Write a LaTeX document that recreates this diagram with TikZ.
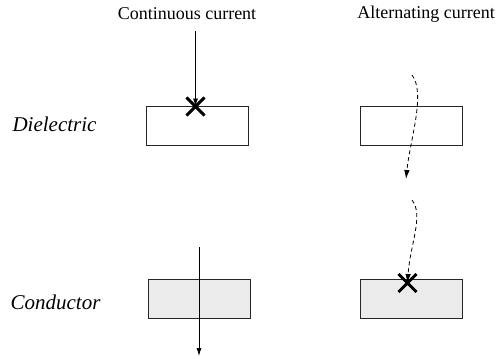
\documentclass[tikz,border=0pt]{standalone}
\usepackage{fontspec}
\setmainfont{Liberation Serif}
\usetikzlibrary{shapes.misc,arrows.meta}
\begin{document}
\begin{tikzpicture}[x=1pt,y=-1pt,
  box/.style={draw=black!85,line width=0.8pt,minimum width=102pt,minimum height=39pt,inner sep=0pt},
  condbox/.style={box,fill=black!8},
  xmark/.style={cross out,draw=black,line width=2.8pt,minimum size=15pt,inner sep=0pt},
  lbl/.style={font=\fontsize{18}{20}\selectfont,inner sep=0pt},
  rowlbl/.style={inner sep=0pt,font=\fontsize{21}{23}\selectfont\itshape},
  solidarrow/.style={line width=0.8pt,-{Latex[length=8pt,width=5pt]}},
  dasharrow/.style={line width=0.8pt,dash pattern=on 4pt off 3pt,-{Latex[length=9pt,width=5.5pt]}}]
\useasboundingbox (0,0) rectangle (504,359);
% headings
\node[lbl] (hdc) at (187,14) {Continuous current};
\node[lbl,anchor=east] (hac) at (495,14) {Alternating current};
\node[rowlbl] (ldi) at (54.5,124) {Dielectric};
\node[rowlbl] (lco) at (55.5,302) {Conductor};
% boxes
\node[box] (dc1) at (197,125.5) {};
\node[box] (ac1) at (411,125.5) {};
\node[condbox] (dc2) at (199,298.5) {};
\node[condbox] (ac2) at (411.5,298.5) {};
% X markers
\node[xmark] (x1) at (195.5,106.5) {};
\node[xmark] (x2) at (407.5,283) {};
% connectors
\coordinate (s1) at (195.5,31);
\coordinate (s2) at (412,75);
\coordinate (e2) at (406,179);
\coordinate (s3) at (412,200);
\coordinate (s4) at (199,247);
\coordinate (e4) at (199,356);
\draw[solidarrow] (s1) -- (x1.center);
\draw[dasharrow] (s2) .. controls (426,93) and (410,140) .. (e2);
\draw[dasharrow] (s3) .. controls (424,215) and (410,245) .. (x2.center);
\draw[solidarrow] (s4) -- (e4);
% redraw markers on top
\node[xmark] at (x1.center) {};
\node[xmark] at (x2.center) {};
\end{tikzpicture}
\end{document}
